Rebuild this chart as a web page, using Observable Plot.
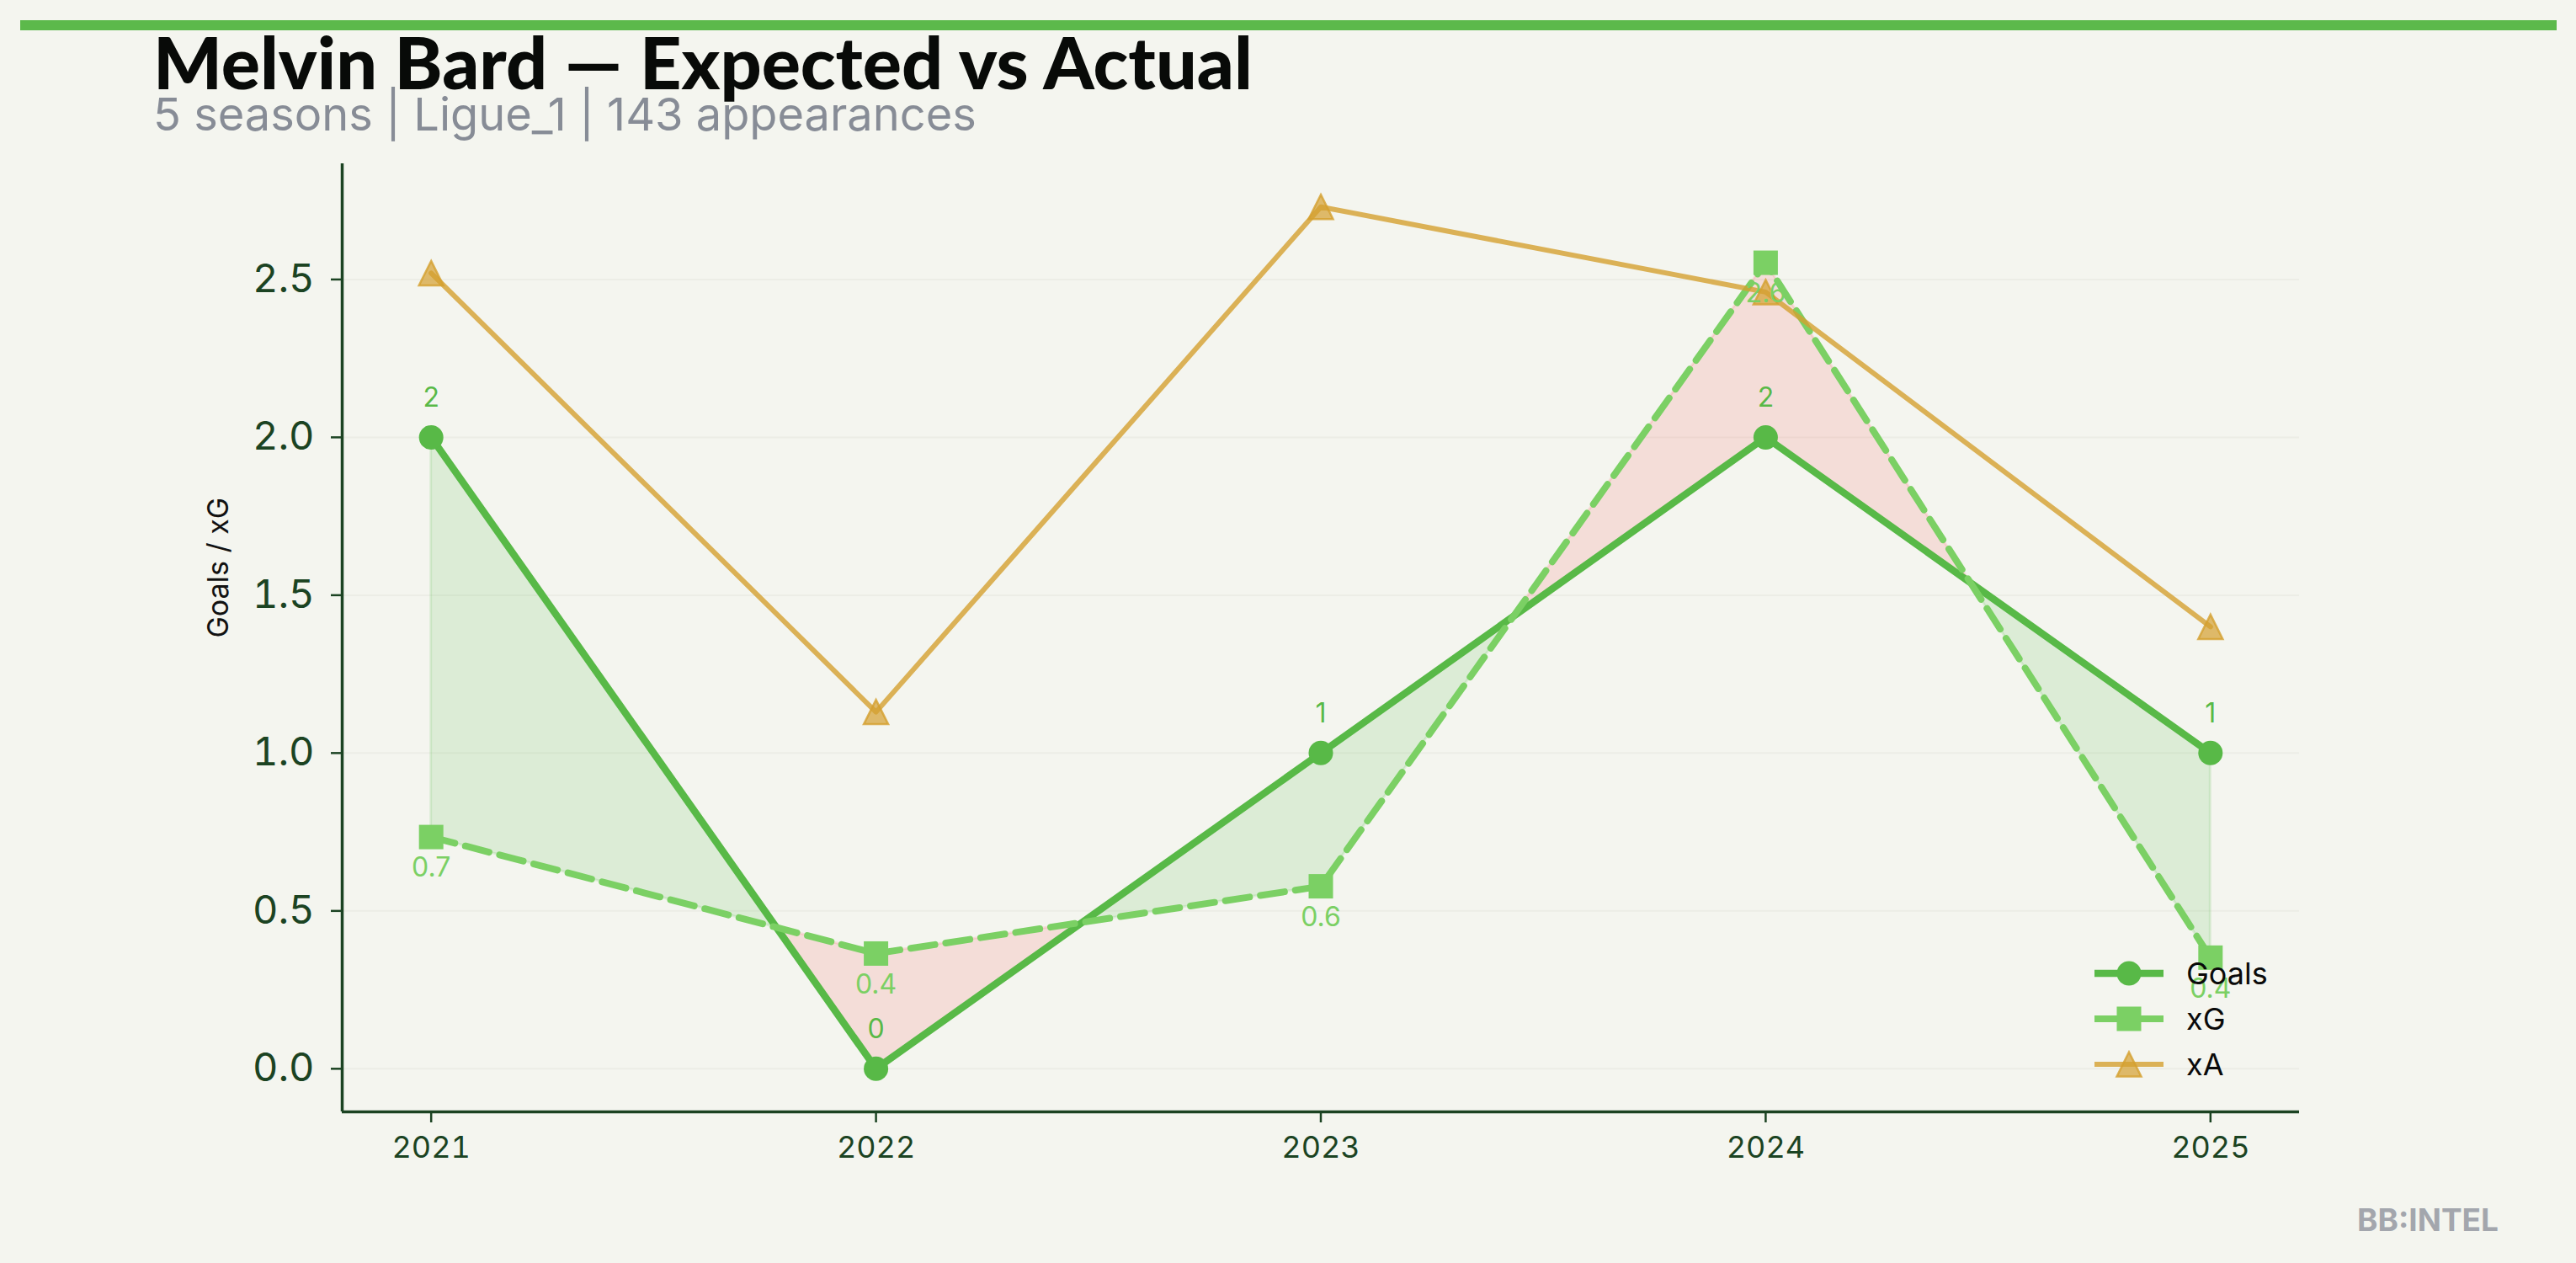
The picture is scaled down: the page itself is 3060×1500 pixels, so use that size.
<!DOCTYPE html>
<html>
<head>
<meta charset="utf-8">
<script src="https://cdn.jsdelivr.net/npm/d3@7"></script>
<script src="https://cdn.jsdelivr.net/npm/@observablehq/plot@0.6"></script>
<style>
  html, body { margin: 0; padding: 0; background: #f4f5ef; }
  #page { position: relative; width: 3060px; height: 1500px; overflow: hidden; background: #f4f5ef; }
  #page > * { position: absolute; left: 0; top: 0; }
  .overlay { pointer-events: none; }
</style>
</head>
<body>
<div id="page"></div>
<script>
// ---------- data ----------
const seasons = [2021, 2022, 2023, 2024, 2025];
const goals   = [2, 0, 1, 2, 1];
const xg      = [0.734, 0.365, 0.578, 2.553, 0.352];
const xa      = [2.52, 1.13, 2.73, 2.46, 1.40];
const yTicks  = [0, 0.5, 1.0, 1.5, 2.0, 2.5];
const seriesNames = ["Goals", "xG", "xA"];
const titleText = "Melvin Bard — Expected vs Actual";
const subtitleText = "5 seasons | Ligue_1 | 143 appearances";
const yLabel = "Goals / xG";
const brand = "BB:INTEL";

// ---------- style ----------
const cGoals = "#58b947";
const cXg = "#7bd064";
const cXa = "#d4a030";
const cOver = "#58b947";
const cUnder = "#f55a55";
const axisColor = "#1b4322";
const xDomain = [2020.8, 2025.2];
const yDomain = [-0.1365, 2.8665];
const wGoals = 8.5, wXg = 8, wXa = 6;

const rows = seasons.map((s, i) => ({season: s, goals: goals[i], xg: xg[i], xa: xa[i]}));

// fill_between(interpolate=True): insert crossing points between Goals and xG
const fillPts = [];
rows.forEach((r, i) => {
  fillPts.push({x: r.season, g: r.goals, e: r.xg});
  const n = rows[i + 1];
  if (n) {
    const d0 = r.goals - r.xg, d1 = n.goals - n.xg;
    if (d0 * d1 < 0) {
      const t = d0 / (d0 - d1);
      const yv = r.goals + t * (n.goals - r.goals);
      fillPts.push({x: r.season + t * (n.season - r.season), g: yv, e: yv});
    }
  }
});
const spans = [];
let cur = null;
for (let i = 0; i < fillPts.length - 1; i++) {
  const a = fillPts[i], b = fillPts[i + 1];
  const sign = ((a.g - a.e) + (b.g - b.e)) >= 0 ? "over" : "under";
  if (!cur || cur.sign !== sign) { cur = {sign, pts: [a]}; spans.push(cur); }
  cur.pts.push(b);
}
const fillData = spans.flatMap((s, k) => s.pts.map(p => ({...p, grp: k, sign: s.sign})));

// custom matplotlib-like symbols
const squareSym = {draw(ctx, size) { const r = Math.sqrt(size / Math.PI); ctx.moveTo(-r, -r); ctx.lineTo(r, -r); ctx.lineTo(r, r); ctx.lineTo(-r, r); ctx.closePath(); }};
const triSym = {draw(ctx, size) { const r = Math.sqrt(size / Math.PI); ctx.moveTo(0, -r); ctx.lineTo(r, r); ctx.lineTo(-r, r); ctx.closePath(); }};

const W = 3060, H = 1500;
const chart = Plot.plot({
  width: W, height: H,
  marginLeft: 406, marginRight: 329, marginTop: 194, marginBottom: 180,
  style: {background: "transparent", fontFamily: "Inter, sans-serif"},
  x: {type: "linear", domain: xDomain},
  y: {type: "linear", domain: yDomain},
  marks: [
    Plot.gridY(yTicks, {stroke: "#ecede6", strokeOpacity: 1, strokeWidth: 2}),
    Plot.areaY(fillData, {filter: d => d.sign === "over", x: "x", y1: "e", y2: "g", z: "grp",
      fill: cOver, fillOpacity: 0.15, stroke: cOver, strokeOpacity: 0.15, strokeWidth: 3}),
    Plot.areaY(fillData, {filter: d => d.sign === "under", x: "x", y1: "e", y2: "g", z: "grp",
      fill: cUnder, fillOpacity: 0.15, stroke: cUnder, strokeOpacity: 0.15, strokeWidth: 3}),
    Plot.line(rows, {x: "season", y: "goals", stroke: cGoals, strokeWidth: wGoals}),
    Plot.line(rows, {x: "season", y: "xg", stroke: cXg, strokeWidth: wXg, strokeDasharray: "29,13"}),
    Plot.line(rows, {x: "season", y: "xa", stroke: cXa, strokeOpacity: 0.8, strokeWidth: wXa}),
    Plot.dot(rows, {x: "season", y: "goals", r: 14.5, fill: cGoals, stroke: null}),
    Plot.dot(rows, {x: "season", y: "xg", r: 14.5, symbol: squareSym, fill: cXg, stroke: null}),
    Plot.dot(rows, {x: "season", y: "xa", r: 14.5, symbol: triSym, fill: cXa, fillOpacity: 0.7, stroke: cXa, strokeOpacity: 0.8, strokeWidth: 2.5}),
    Plot.text(rows, {x: "season", y: "goals", text: d => d3.format("d")(d.goals), dy: -47, fill: cGoals, fontSize: 32}),
    Plot.text(rows, {x: "season", y: "xg", text: d => d3.format(".1f")(d.xg), dy: 37, fill: cXg, fontSize: 32}),
    Plot.ruleX([xDomain[0]], {stroke: axisColor, strokeWidth: 3.5}),
    Plot.ruleY([yDomain[0]], {stroke: axisColor, strokeWidth: 3.5}),
    Plot.axisY({ticks: yTicks, tickFormat: d3.format(".1f"), tickSize: 13, tickPadding: 20, fontSize: 47,
      color: axisColor, strokeWidth: 2.5, label: null}),
    Plot.axisX({ticks: seasons, tickFormat: d => String(d), tickSize: 13, tickPadding: 16, fontSize: 36,
      color: axisColor, strokeWidth: 2.5, label: null}),
    Plot.text([yLabel], {frameAnchor: "left", dx: -146, rotate: -90, text: d => d, fill: "#111", fontSize: 34})
  ]
});
const page = document.getElementById("page");
page.appendChild(chart);

// ---------- overlays: header, legend, brand ----------
const ov = d3.select(page).append("svg").attr("class", "overlay")
  .attr("width", W).attr("height", H);

ov.append("rect").attr("x", 24).attr("y", 24).attr("width", 3013).attr("height", 12).attr("fill", "#5cb94b");

const t = ov.append("text").attr("x", 182).attr("y", 106)
  .attr("font-family", "Lato, sans-serif").attr("font-weight", 900).attr("font-size", 84)
  .attr("fill", "#080a08").text(titleText);
const tw = t.node().getComputedTextLength();
t.attr("font-size", 84 * 1306 / tw);

const st = ov.append("text").attr("x", 182).attr("y", 155)
  .attr("font-family", "Inter, sans-serif").attr("font-size", 52)
  .attr("fill", "#878c96").text(subtitleText);
const sw = st.node().getComputedTextLength();
st.attr("font-size", 52 * 978 / sw);

// legend
const lg = ov.append("g");
const legY = [1156, 1210, 1264];
const legItems = [
  {name: seriesNames[0], color: cGoals, sym: "circle", w: wGoals, op: 1},
  {name: seriesNames[1], color: cXg, sym: "square", w: wXg, op: 1},
  {name: seriesNames[2], color: cXa, sym: "tri", w: wXa, op: 0.8}
];
legItems.forEach((it, i) => {
  const y = legY[i];
  const g = lg.append("g");
  g.append("line").attr("x1", 2488).attr("x2", 2570).attr("y1", y).attr("y2", y)
    .attr("stroke", it.color).attr("stroke-width", it.w).attr("stroke-opacity", it.op);
  const cx = 2529, r = 14.5;
  if (it.sym === "circle") g.append("circle").attr("cx", cx).attr("cy", y).attr("r", r).attr("fill", it.color);
  if (it.sym === "square") g.append("rect").attr("x", cx - r).attr("y", y - r).attr("width", 2 * r).attr("height", 2 * r).attr("fill", it.color);
  if (it.sym === "tri") g.append("path").attr("d", `M${cx},${y - r}L${cx + r},${y + r}L${cx - r},${y + r}Z`)
    .attr("fill", it.color).attr("fill-opacity", 0.7).attr("stroke", it.color).attr("stroke-opacity", 0.8).attr("stroke-width", 2.5);
  g.append("text").attr("x", 2597).attr("y", y).attr("dy", "0.36em")
    .attr("font-family", "Inter, sans-serif").attr("font-size", 36).attr("fill", "#0a0a0a").text(it.name);
});

ov.append("text").attr("x", 2968).attr("y", 1462).attr("text-anchor", "end")
  .attr("font-family", "Inter, sans-serif").attr("font-weight", 700).attr("font-size", 37)
  .attr("fill", "#a3a6ad").text(brand);
</script>
</body>
</html>
